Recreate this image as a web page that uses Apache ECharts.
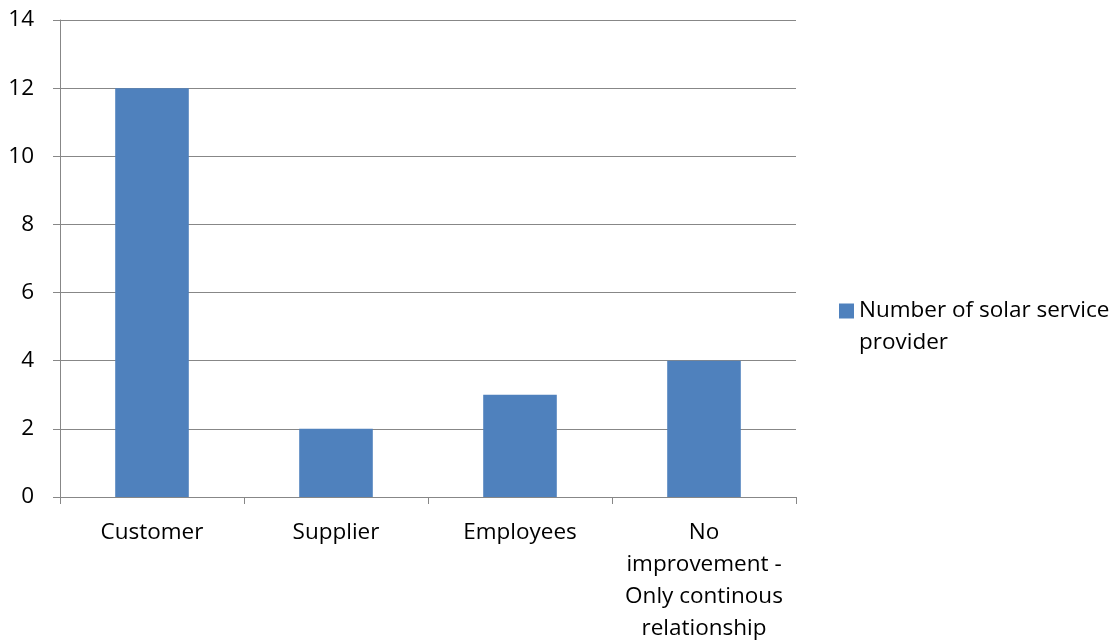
<!DOCTYPE html>
<html>
<head>
<meta charset="utf-8">
<script src="https://cdn.jsdelivr.net/npm/echarts@6/dist/echarts.min.js"></script>
<style>
  html, body { margin: 0; padding: 0; background: #fff; overflow: hidden; }
  #chart { width: 1118px; height: 641px; }
</style>
</head>
<body>
<div id="chart"></div>
<script>
// Who drives improvement for solar service providers
const categories = ['Customer', 'Supplier', 'Employees', 'No\nimprovement -\nOnly continous\nrelationship'];
const providerCounts = [12, 2, 3, 4];
const seriesName = 'Number of solar service provider';
// leading blank line keeps the swatch level with the first text line
const legendLabel = ' \nNumber of solar service\nprovider';
const yTicks = { min: 0, max: 14, interval: 2 };

const FONT = '"Open Sans", sans-serif';
const FONT_SIZE = 22.5;
const AXIS_GREY = '#878787';

const chart = echarts.init(document.getElementById('chart'), null, { renderer: 'canvas' });
chart.setOption({
  animation: false,
  backgroundColor: '#ffffff',
  textStyle: { fontFamily: FONT },
  grid: { left: 60, right: 322, top: 20, bottom: 144, containLabel: false, outerBoundsMode: 'none' },
  legend: {
    orient: 'vertical',
    left: 839,
    top: 263,
    padding: 0,
    itemWidth: 15,
    itemHeight: 15,
    itemGap: 0,
    icon: 'rect',
    data: [seriesName],
    formatter: () => legendLabel,
    textStyle: { fontFamily: FONT, fontSize: FONT_SIZE, color: '#000', lineHeight: 32 }
  },
  xAxis: {
    type: 'category',
    data: categories,
    axisLine: { lineStyle: { color: AXIS_GREY, width: 1 } },
    axisTick: { show: true, length: 7, alignWithLabel: false, lineStyle: { color: AXIS_GREY } },
    axisLabel: { interval: 0, fontFamily: FONT, fontSize: FONT_SIZE, color: '#000', lineHeight: 32, margin: 20, align: 'center' }
  },
  yAxis: {
    type: 'value',
    min: yTicks.min,
    max: yTicks.max,
    interval: yTicks.interval,
    axisLine: { show: true, lineStyle: { color: AXIS_GREY, width: 1 } },
    axisTick: { show: true, length: 7, lineStyle: { color: AXIS_GREY } },
    splitLine: { show: true, lineStyle: { color: AXIS_GREY, width: 1 } },
    axisLabel: { fontFamily: FONT, fontSize: FONT_SIZE, color: '#000', margin: 26 }
  },
  series: [{
    name: seriesName,
    type: 'bar',
    data: providerCounts,
    barWidth: '40%',
    itemStyle: { color: '#4F81BD' }
  }]
});
</script>
</body>
</html>
